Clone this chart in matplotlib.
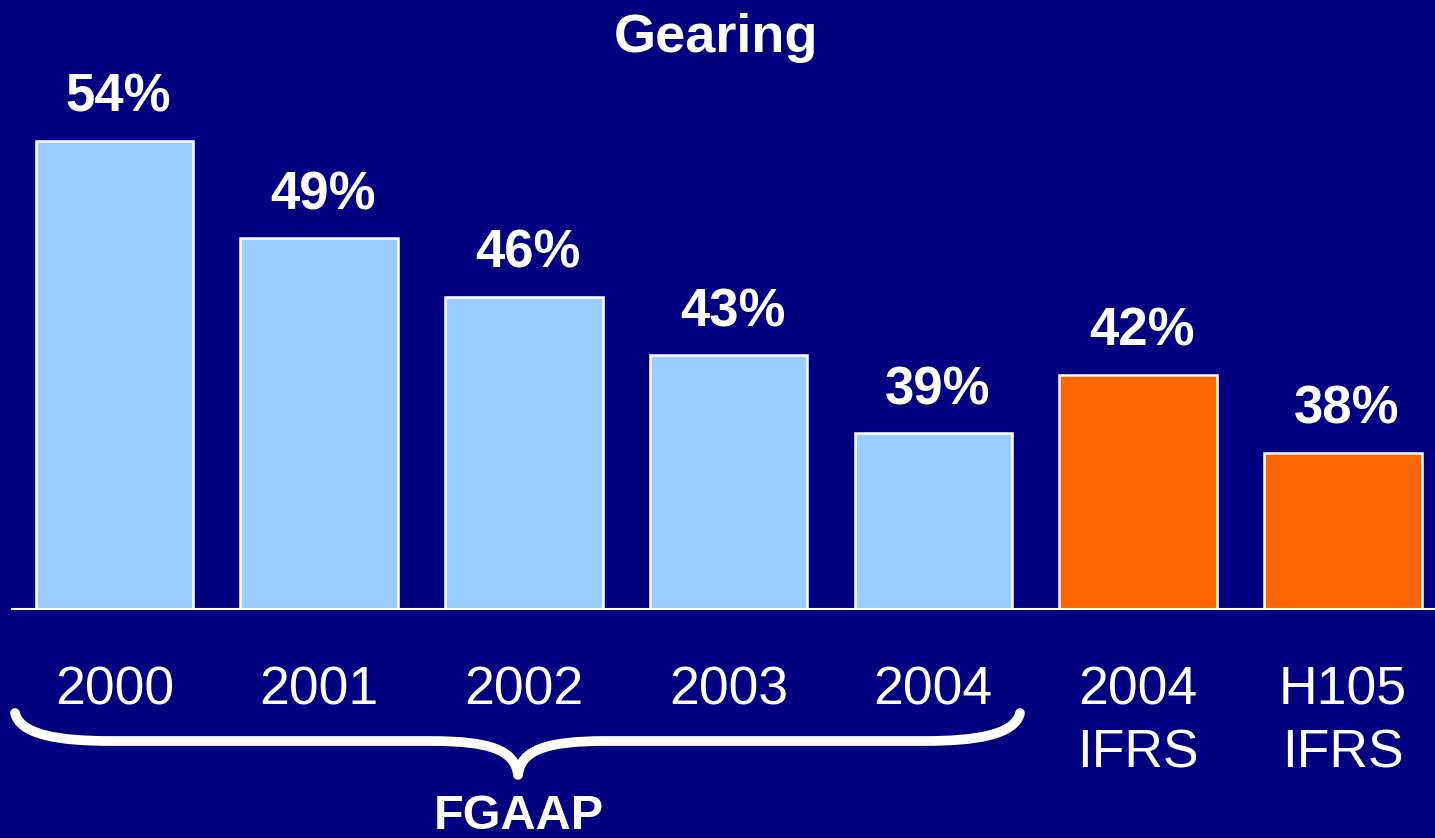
import numpy as np
import matplotlib
matplotlib.use('Agg')
import matplotlib.pyplot as plt
from matplotlib.path import Path
from matplotlib.patches import PathPatch

plt.rcParams['font.family'] = ['Liberation Sans', 'DejaVu Sans']

# Datos
categorias = ['2000', '2001', '2002', '2003', '2004', '2004\nIFRS', 'H105\nIFRS']
gearing = [54, 49, 46, 43, 39, 42, 38]
colores = ['#99CCFF'] * 5 + ['#FF6600'] * 2

W, H = 1435, 838
fondo = '#000080'

fig = plt.figure(figsize=(W / 100, H / 100), dpi=100, facecolor=fondo)
# ejes: base en y=609 px, 19.5 px por punto porcentual, eje empieza en 30%
ax = fig.add_axes([12 / W, 1 - 609 / H, (W - 12) / W, 585 / H])
ax.set_facecolor(fondo)

x = np.arange(len(categorias))
ax.bar(x, gearing, bottom=0, width=0.77, color=colores, edgecolor='white', linewidth=1.8, zorder=2)
ax.set_ylim(30, 60)
ax.set_xlim(-0.5, 6.45)

for xi, v in zip(x, gearing):
    ax.annotate(f'{v}%', (xi + 0.02, v), xytext=(0, 21), textcoords='offset points',
                ha='center', va='baseline', color='white', fontsize=38, fontweight='bold')

for s in ['top', 'right', 'left']:
    ax.spines[s].set_visible(False)
ax.spines['bottom'].set_color('white')
ax.spines['bottom'].set_linewidth(1.5)
ax.set_yticks([])
ax.set_xticks(x)
ax.set_xticklabels(categorias, color='white', fontsize=38.5, linespacing=1.32)
ax.tick_params(axis='x', length=0, pad=41)

fig.text(716 / W, 1 - 52 / H, 'Gearing', ha='center', va='baseline',
         color='white', fontsize=39, fontweight='bold')

# Llave bajo los años FGAAP (coordenadas en píxeles)
pts = [(15, 713), (20, 735), (60, 741), (110, 741), (430, 741),
       (490, 741), (515, 750), (518, 775),
       (521, 750), (546, 741), (606, 741), (925, 741),
       (975, 741), (1015, 735), (1020, 713)]
codes = [Path.MOVETO, Path.CURVE4, Path.CURVE4, Path.CURVE4, Path.LINETO,
         Path.CURVE4, Path.CURVE4, Path.CURVE4,
         Path.CURVE4, Path.CURVE4, Path.CURVE4, Path.LINETO,
         Path.CURVE4, Path.CURVE4, Path.CURVE4]
verts = [(px / W, 1 - py / H) for px, py in pts]
llave = PathPatch(Path(verts, codes), transform=fig.transFigure, fill=False,
                  edgecolor='white', linewidth=7, capstyle='round', joinstyle='round')
fig.patches.append(llave)

fig.text(519 / W, 1 - 829 / H, 'FGAAP', ha='center', va='baseline',
         color='white', fontsize=35, fontweight='bold')

fig.savefig('out.png', dpi=100, facecolor=fondo)
